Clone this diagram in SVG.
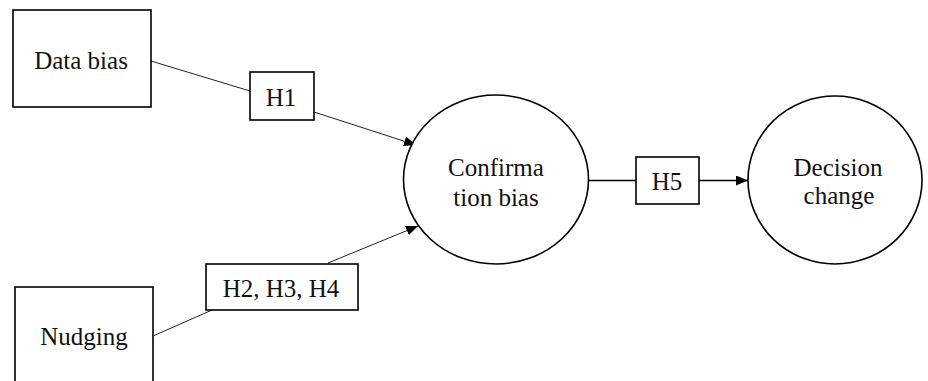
<svg xmlns="http://www.w3.org/2000/svg" width="928" height="381" viewBox="0 0 928 381">
<defs>
<marker id="arr" viewBox="0 0 12 10" refX="12" refY="5" markerWidth="12" markerHeight="10" markerUnits="userSpaceOnUse" orient="auto">
<path d="M0,0 L12,5 L0,10 Z" fill="#000"/>
</marker>
<style>
.box{fill:#fff;stroke:#000;stroke-width:1.6}
.ell{fill:#fff;stroke:#000;stroke-width:1.6}
.lbl{fill:#fff;stroke:#000;stroke-width:1.6}
.edge{fill:none;stroke:#222;stroke-width:1}
.edge2{fill:none;stroke:#000;stroke-width:1.4}
text{font-family:"Liberation Serif","Times New Roman",serif;font-size:25px;fill:#111;text-anchor:middle}
</style>
</defs>
<rect width="928" height="381" fill="#fff"/>
<g id="connectors">
<line class="edge" x1="151" y1="61" x2="250" y2="91"/>
<line class="edge" x1="314" y1="112" x2="416" y2="145" marker-end="url(#arr)"/>
<line class="edge" x1="153" y1="336" x2="212" y2="310"/>
<line class="edge" x1="328" y1="263" x2="418" y2="226" marker-end="url(#arr)"/>
<line class="edge2" x1="588" y1="180.5" x2="636" y2="180.5"/>
<line class="edge2" x1="699" y1="180.5" x2="748" y2="180.5" marker-end="url(#arr)"/>
</g>
<g id="data-bias">
<rect class="box" x="13" y="10" width="138" height="97"/>
<text x="81" y="69">Data bias</text>
</g>
<g id="nudging">
<rect class="box" x="15" y="287" width="138" height="110"/>
<text x="84" y="345">Nudging</text>
</g>
<g id="confirmation-bias">
<ellipse class="ell" cx="496" cy="179.5" rx="92.5" ry="84.5"/>
<text x="496" y="176">Confirma</text>
<text x="496" y="206">tion bias</text>
</g>
<g id="decision-change">
<ellipse class="ell" cx="835" cy="180" rx="87" ry="84"/>
<text x="838" y="176">Decision</text>
<text x="839" y="204">change</text>
</g>
<g id="h1">
<rect class="lbl" x="250" y="72" width="64" height="48"/>
<text x="281" y="106">H1</text>
</g>
<g id="h2-h3-h4">
<rect class="lbl" x="206" y="264" width="152" height="46"/>
<text x="281" y="297">H2, H3, H4</text>
</g>
<g id="h5">
<rect class="lbl" x="636" y="157" width="63" height="47"/>
<text x="667" y="190">H5</text>
</g>
</svg>
